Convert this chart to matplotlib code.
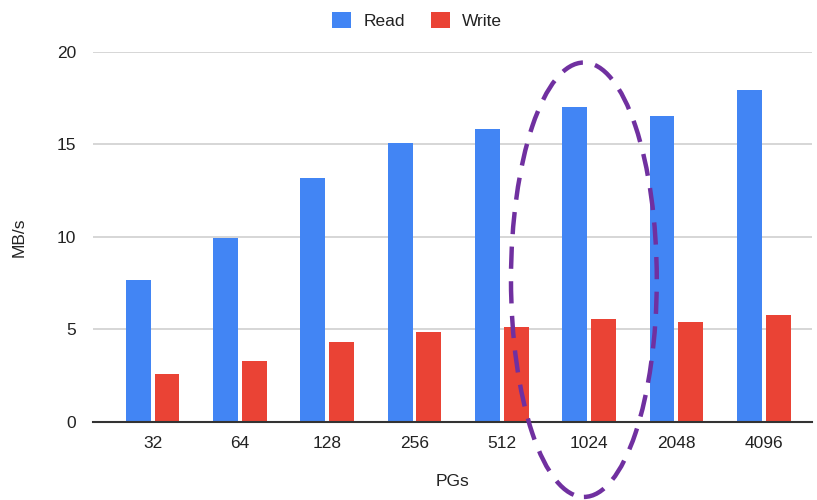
import numpy as np
from matplotlib import pyplot as plt
from matplotlib.patches import Ellipse

plt.rcParams['font.family'] = ['Liberation Sans', 'DejaVu Sans']

pgs = ['32', '64', '128', '256', '512', '1024', '2048', '4096']
read_mbs = [7.65, 9.95, 13.2, 15.1, 15.85, 17.02, 16.55, 17.96]
write_mbs = [2.58, 3.29, 4.3, 4.83, 5.15, 5.55, 5.37, 5.77]

blue = '#4285F4'
red = '#EA4335'

fig = plt.figure(figsize=(8.17, 5.0), dpi=100)
ax = fig.add_axes([93/817, 78.3/500, (812-93)/817, (421.7-52)/500])

x = np.arange(len(pgs))
w = 0.285
off = 0.165
ax.bar(x - off, read_mbs, w, color=blue, label='Read', zorder=3)
ax.bar(x + off, write_mbs, w, color=red, label='Write', zorder=3)

ax.set_xlim(-0.683, 7.553)
ax.set_ylim(0, 20)
ax.set_yticks([0, 5, 10, 15, 20])
ax.set_xticks(x)
ax.set_xticklabels(pgs)
ax.tick_params(length=0, labelsize=12.5, colors='#222222')
ax.tick_params(axis='x', pad=10)
ax.tick_params(axis='y', pad=12)
ax.yaxis.grid(True, color='#d0d0d0', linewidth=1.2, zorder=0)
for s in ['top', 'right', 'left']:
    ax.spines[s].set_visible(False)
ax.spines['bottom'].set_color('#333333')
ax.spines['bottom'].set_linewidth(1.5)
ax.spines['bottom'].set_zorder(4)

ax.set_xlabel('PGs', fontsize=12.5, color='#222222', labelpad=17)
ax.set_ylabel('MB/s', fontsize=12.5, color='#222222', labelpad=22)

# highlight around 1024
ell = Ellipse((4.94, 7.68), 1.67, 23.5, fill=False, edgecolor='#7030A0',
              linewidth=3.2, linestyle=(0, (5, 2.8)), clip_on=False, zorder=5)
ax.add_patch(ell)

fig.legend(loc='upper center', bbox_to_anchor=(417/817, 1.008), ncol=2, frameon=False,
           fontsize=12.5, handlelength=1.1, handleheight=1.1, columnspacing=1.5,
           handletextpad=0.7, labelcolor='#222222')

fig.savefig('out.png', dpi=100)
